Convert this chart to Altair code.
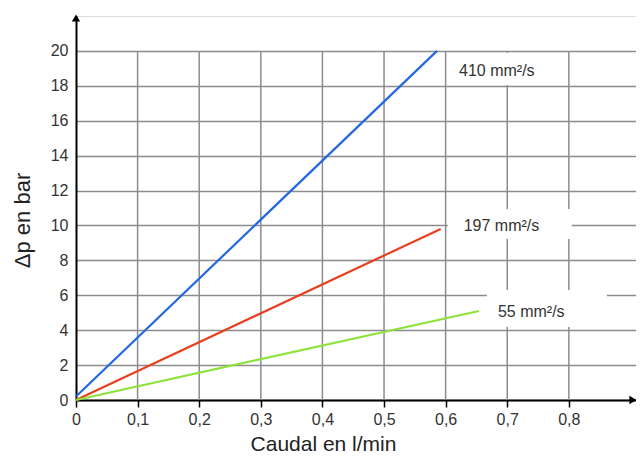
import altair as alt
import pandas as pd

# ---- data ----
series_names = ["410 mm²/s", "197 mm²/s", "55 mm²/s"]
series_colors = ["#2468e0", "#e8401e", "#8ee23c"]

flow_410 = [0.0, 0.586]
dp_410 = [0.2, 20.0]
flow_197 = [0.0, 0.592]
dp_197 = [0.0, 9.8]
flow_55 = [0.0, 0.654]
dp_55 = [0.0, 5.1]

x_ticks = [0, 0.1, 0.2, 0.3, 0.4, 0.5, 0.6, 0.7, 0.8]
y_ticks = [0, 2, 4, 6, 8, 10, 12, 14, 16, 18, 20]

X_MAX = 0.909
Y_MAX = 22

FONT = "Liberation Sans"
GRID = "#8c8c8c"

rows = []
for name, fx, fy in zip(series_names, [flow_410, flow_197, flow_55], [dp_410, dp_197, dp_55]):
    for i, (a, b) in enumerate(zip(fx, fy)):
        rows.append({"serie": name, "flow": a, "dp": b, "ord": i})
lines_df = pd.DataFrame(rows)
ends_df = lines_df[lines_df["ord"] == 1].reset_index(drop=True)

xscale = alt.Scale(domain=[0, X_MAX], nice=False, zero=False)
yscale = alt.Scale(domain=[0, Y_MAX], nice=False, zero=False)

xaxis = alt.Axis(
    values=x_ticks,
    labelExpr="datum.value == 0 ? '0' : replace(format(datum.value, '.1f'), '.', ',')",
    grid=False, ticks=True, tickSize=7, tickColor="black", tickWidth=1.5,
    domainColor="black", domainWidth=2, labelFlush=False,
    labelFont=FONT, labelFontSize=16, labelColor="#333", labelPadding=4,
    title="Caudal en l/min", titleFont=FONT, titleFontSize=21, titleFontWeight="normal",
    titleColor="#222", titleX=247, titleY=50, titleAlign="center", titleBaseline="alphabetic",
)
yaxis = alt.Axis(
    values=y_ticks,
    grid=True, gridColor=GRID, gridWidth=1.5,
    ticks=False, domainColor="black", domainWidth=2, labelFlush=False,
    labelFont=FONT, labelFontSize=16, labelColor="#333", labelPadding=8,
    title="Δp en bar", titleFont=FONT, titleFontSize=22, titleFontWeight="normal",
    titleColor="#222", titleX=-54, titleY=204, titleAngle=-90, titleAlign="center",
    titleBaseline="middle",
)

def X(field="flow"):
    return alt.X(f"{field}:Q", scale=xscale, axis=xaxis)

def Y(field="dp"):
    return alt.Y(f"{field}:Q", scale=yscale, axis=yaxis)

# vertical grid rules (from 0 to the top tick only)
vgrid_df = pd.DataFrame({"flow": x_ticks[1:], "dp": [y_ticks[0]] * (len(x_ticks) - 1),
                         "dp2": [y_ticks[-1]] * (len(x_ticks) - 1)})
vgrid = alt.Chart(vgrid_df).mark_rule(color=GRID, strokeWidth=1.5).encode(
    x=X(), y=Y(), y2="dp2:Q")

color = alt.Color("serie:N", scale=alt.Scale(domain=series_names, range=series_colors), legend=None)

lines = alt.Chart(lines_df).mark_line(strokeWidth=2.2).encode(
    x=X(), y=Y(), color=color, order="ord:Q", detail="serie:N")

# label boxes and labels, offset from each line's end point
label_style = {
    "410 mm²/s": dict(box=(11, 130, 2, 34), dx=22, dy=20),
    "197 mm²/s": dict(box=(7, 131, -20, 10), dx=23, dy=-3),
    "55 mm²/s": dict(box=(8, 128, -21, 16), dx=19, dy=1),
}
boxes = []
texts = []
for name in series_names:
    st = label_style[name]
    base = alt.Chart(ends_df).transform_filter(alt.datum.serie == name)
    x0, x1, y0, y1 = st["box"]
    boxes.append(base.mark_rect(color="white", xOffset=x0, x2Offset=x1, yOffset=y0, y2Offset=y1).encode(
        x=X(), x2="flow:Q", y=Y(), y2="dp:Q"))
    texts.append(base.mark_text(align="left", baseline="middle", dx=st["dx"], dy=st["dy"],
                                font=FONT, fontSize=16, color="#333").encode(
        x=X(), y=Y(), text="serie:N"))

# arrowheads at the axis ends
arrow_up = alt.Chart(pd.DataFrame({"flow": [0], "dp": [Y_MAX]})).mark_point(
    shape="triangle-up", filled=True, color="black", opacity=1, size=70, yOffset=2).encode(x=X(), y=Y())
arrow_right = alt.Chart(pd.DataFrame({"flow": [X_MAX], "dp": [0]})).mark_point(
    shape="triangle-right", filled=True, color="black", opacity=1, size=70, xOffset=-3).encode(x=X(), y=Y())

chart = alt.layer(vgrid, *boxes, lines, *texts, arrow_up, arrow_right).properties(
    width=560, height=384,
    autosize=alt.AutoSizeParams(type="none"),
    padding={"left": 68, "top": 8, "right": 0, "bottom": 54},
).configure_view(stroke=None).configure(background="white")

chart.save("out.html", embed_options={"renderer": "svg", "actions": False})
